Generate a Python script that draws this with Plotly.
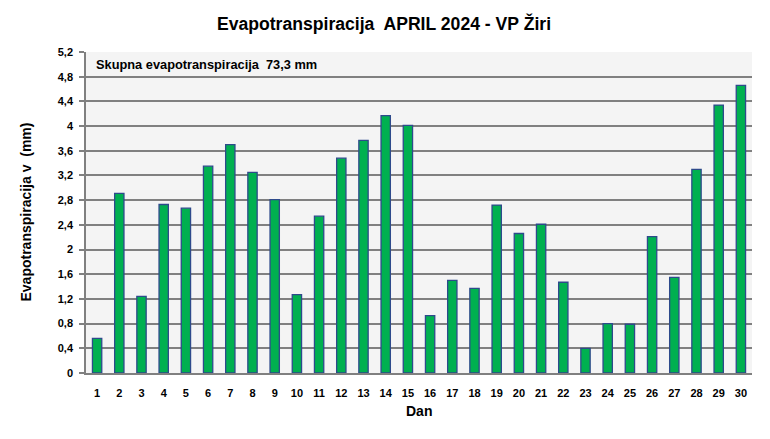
import plotly.graph_objects as go

days = [str(d) for d in range(1, 31)]
et_values = [0.56, 2.91, 1.24, 2.73, 2.67, 3.35, 3.70, 3.25, 2.81, 1.27,
             2.54, 3.48, 3.77, 4.17, 4.01, 0.93, 1.50, 1.37, 2.72, 2.26,
             2.41, 1.47, 0.40, 0.80, 0.79, 2.21, 1.55, 3.30, 4.34, 4.66]
y_ticks = [0, 0.4, 0.8, 1.2, 1.6, 2.0, 2.4, 2.8, 3.2, 3.6, 4.0, 4.4, 4.8, 5.2]
y_tick_labels = ["0", "0,4", "0,8", "1,2", "1,6", "2", "2,4", "2,8", "3,2", "3,6", "4", "4,4", "4,8", "5,2"]
title_text = "Evapotranspiracija  APRIL 2024 - VP Žiri"
total_text = "Skupna evapotranspiracija  73,3 mm"
x_title = "Dan"
y_title = "Evapotranspiracija v  (mm)"

font_family = "Liberation Sans, Arial, sans-serif"

fig = go.Figure(go.Bar(
    x=days, y=et_values,
    marker=dict(color="#00b050", line=dict(color="#2e4a8b", width=1.3)),
    hoverinfo="x+y",
))

# page body has an 8px margin, so the figure is sized/positioned to compensate
fig.update_layout(
    width=762, height=431,
    margin=dict(l=78, r=18, t=44, b=66),
    paper_bgcolor="white",
    plot_bgcolor="#f4f4f4",
    bargap=0.58,
    showlegend=False,
    font=dict(family=font_family, color="black"),
    title=dict(text="<b>" + title_text + "</b>", x=0.4934, xanchor="center",
               y=0.963, yanchor="middle", font=dict(size=17.6)),
    xaxis=dict(
        tickfont=dict(size=11, weight="bold"),
        showline=True, linecolor="#808080", linewidth=1.5,
        showgrid=False, ticks="", ticklabelstandoff=9,
        automargin=False,
    ),
    yaxis=dict(
        range=[0, 5.2], tickvals=y_ticks, ticktext=y_tick_labels,
        tickfont=dict(size=11, weight="bold"),
        showline=True, linecolor="#808080", linewidth=1.5,
        showgrid=True, gridcolor="#808080", gridwidth=1.5,
        ticks="outside", ticklen=5, tickcolor="#808080", tickwidth=1.5,
        ticklabelstandoff=4,
        zeroline=False, automargin=False,
    ),
    annotations=[
        dict(text="<b>" + total_text + "</b>", xref="paper", yref="paper",
             x=0.012, y=(5.2 - 0.2) / 5.2, xanchor="left", yanchor="middle",
             showarrow=False, font=dict(size=12.8)),
        dict(text="<b>" + x_title + "</b>", xref="paper", yref="paper",
             x=0.5, y=0, yshift=-38, xanchor="center", yanchor="middle",
             showarrow=False, font=dict(size=14)),
        dict(text="<b>" + y_title + "</b>", xref="paper", yref="paper",
             x=0, xshift=-61, y=0.5, xanchor="center", yanchor="middle",
             textangle=-90, showarrow=False, font=dict(size=14)),
    ],
)

fig.write_html("out.html")
